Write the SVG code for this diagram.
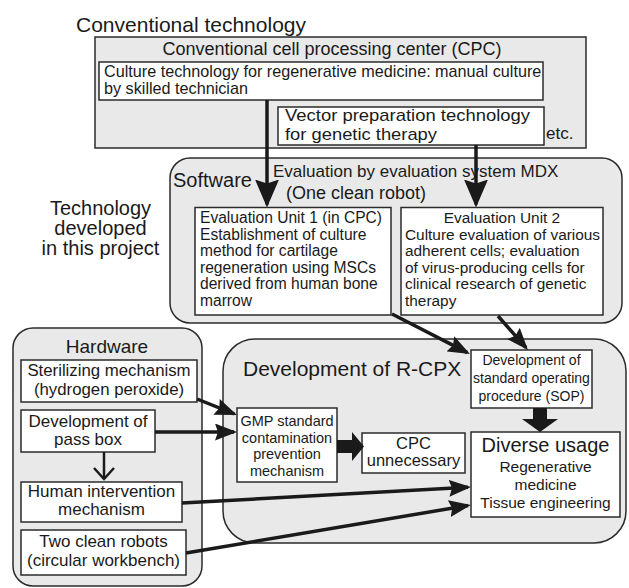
<svg xmlns="http://www.w3.org/2000/svg" width="629" height="588" viewBox="0 0 629 588">
<style>
.c{fill:#e9e9e9;stroke:#2b2b2b;stroke-width:1.5}
.b{fill:#fff;stroke:#2b2b2b;stroke-width:1.5}
text{font-family:"Liberation Sans",Arial,sans-serif;fill:#1a1a1a}
.m{text-anchor:middle}
.ln{fill:none;stroke:#1a1a1a;stroke-width:3.5}
.th{fill:none;stroke:#1a1a1a;stroke-width:2.5}
.blk{fill:#1a1a1a}
</style>
<defs>
<marker id="ah" markerUnits="userSpaceOnUse" viewBox="0 0 22 17" markerWidth="22" markerHeight="17" refX="19" refY="8.5" orient="auto"><path d="M0,0 L22,8.5 L0,17 L3,8.5 Z" fill="#1a1a1a"/></marker>
<marker id="ahL" markerUnits="userSpaceOnUse" viewBox="0 0 28 24" markerWidth="28" markerHeight="24" refX="25" refY="12" orient="auto"><path d="M0,0 L28,12 L0,24 L4,12 Z" fill="#1a1a1a"/></marker>
<marker id="chev" markerUnits="userSpaceOnUse" viewBox="0 0 14 22" markerWidth="14" markerHeight="22" refX="12" refY="11" orient="auto"><path d="M1,1 L12,11 L1,21" fill="none" stroke="#1a1a1a" stroke-width="2.5"/></marker>
</defs>

<text x="76" y="32" font-size="21">Conventional technology</text>

<g id="cpc">
<rect class="c" x="95" y="37" width="491" height="111"/>
<text class="m" x="332" y="55" font-size="18">Conventional cell processing center (CPC)</text>
<text x="546" y="139" font-size="17">etc.</text>
</g>
<g id="culture-tech">
<rect class="b" x="99" y="62" width="444" height="38"/>
<text x="104" y="77" font-size="16.2">Culture technology for regenerative medicine: manual culture</text>
<text x="104" y="94" font-size="16.2">by skilled technician</text>
</g>
<g id="vector-tech">
<rect class="b" x="278" y="107" width="266" height="38"/>
<text x="285" y="120.5" font-size="17" textLength="245" lengthAdjust="spacingAndGlyphs">Vector preparation technology</text>
<text x="285" y="140" font-size="17" textLength="152" lengthAdjust="spacingAndGlyphs">for genetic therapy</text>
</g>

<g id="tech-label">
<text class="m" x="100.5" y="215" font-size="20">Technology</text>
<text class="m" x="100.5" y="235" font-size="20">developed</text>
<text class="m" x="100.5" y="255" font-size="20">in this project</text>
</g>

<g id="software">
<rect class="c" x="170" y="158" width="452" height="165" rx="20"/>
<text x="173" y="187" font-size="20">Software</text>
<text x="273" y="177" font-size="17">Evaluation by evaluation system MDX</text>
<text x="286" y="199" font-size="18">(One clean robot)</text>
</g>
<g id="eval1">
<rect class="b" x="195" y="207.5" width="196" height="107.5"/>
<g font-size="15.6">
<text x="200" y="223">Evaluation Unit 1 (in CPC)</text>
<text x="200" y="239.5">Establishment of culture</text>
<text x="200" y="256">method for cartilage</text>
<text x="200" y="272.5">regeneration using MSCs</text>
<text x="200" y="289">derived from human bone</text>
<text x="200" y="305.5">marrow</text>
</g>
</g>
<g id="eval2">
<rect class="b" x="401" y="207.5" width="202" height="107.5"/>
<g font-size="15.4">
<text class="m" x="502" y="223">Evaluation Unit 2</text>
<text x="405" y="239.5">Culture evaluation of various</text>
<text x="405" y="256">adherent cells; evaluation</text>
<text x="405" y="272.5">of virus-producing cells for</text>
<text x="405" y="289">clinical research of genetic</text>
<text x="405" y="305.5">therapy</text>
</g>
</g>

<g id="hardware">
<rect class="c" x="13" y="328" width="189" height="258" rx="20"/>
<text class="m" x="107" y="353" font-size="19">Hardware</text>
</g>
<g id="rcpx">
<rect class="c" x="223" y="339" width="403" height="204" rx="32"/>
<text x="243" y="376" font-size="21">Development of R-CPX</text>
</g>

<g id="sterilizing">
<rect class="b" x="21" y="360" width="176" height="42"/>
<text class="m" x="109" y="376" font-size="16.8">Sterilizing mechanism</text>
<text class="m" x="109" y="395" font-size="16.8">(hydrogen peroxide)</text>
</g>
<g id="passbox">
<rect class="b" x="21" y="410" width="134" height="42"/>
<text class="m" x="88" y="427" font-size="17">Development of</text>
<text class="m" x="88" y="445" font-size="17">pass box</text>
</g>
<g id="human">
<rect class="b" x="21" y="482" width="161" height="40"/>
<text class="m" x="101.5" y="497" font-size="17">Human intervention</text>
<text class="m" x="101.5" y="515" font-size="17">mechanism</text>
</g>
<g id="robots">
<rect class="b" x="21" y="530" width="165" height="45"/>
<text class="m" x="103.5" y="547" font-size="17">Two clean robots</text>
<text class="m" x="103.5" y="566" font-size="17">(circular workbench)</text>
</g>

<g id="gmp">
<rect class="b" x="237" y="408" width="100" height="74"/>
<g font-size="14.5">
<text class="m" x="287" y="426">GMP standard</text>
<text class="m" x="287" y="443">contamination</text>
<text class="m" x="287" y="459">prevention</text>
<text class="m" x="287" y="476">mechanism</text>
</g>
</g>
<g id="cpc-unnecessary">
<rect class="b" x="362" y="433" width="103" height="40"/>
<text class="m" x="413.5" y="449" font-size="16.5">CPC</text>
<text class="m" x="413.5" y="466" font-size="16.5">unnecessary</text>
</g>
<g id="sop">
<rect class="b" x="471" y="350" width="121" height="58"/>
<g font-size="14">
<text class="m" x="531.5" y="365">Development of</text>
<text class="m" x="531.5" y="383">standard operating</text>
<text class="m" x="531.5" y="401">procedure (SOP)</text>
</g>
</g>
<g id="diverse">
<rect class="b" x="471" y="432" width="149" height="85"/>
<text class="m" x="545.5" y="452" font-size="20">Diverse usage</text>
<text class="m" x="545.5" y="472" font-size="15.5">Regenerative</text>
<text class="m" x="545.5" y="490" font-size="15.5">medicine</text>
<text class="m" x="545.5" y="508" font-size="15.5">Tissue engineering</text>
</g>

<g id="connectors">
<path class="ln" d="M267,100 L267,204.5" marker-end="url(#ahL)"/>
<path class="ln" d="M476,145 L476,204.5" marker-end="url(#ahL)"/>
<path class="ln" d="M392,314 L467.3,352.6" marker-end="url(#ah)"/>
<path class="ln" d="M498,316 L526,347.7" marker-end="url(#ah)"/>
<path class="ln" d="M197,399 L234.2,413.9" marker-end="url(#ah)"/>
<path class="ln" d="M155,432 L234,432" marker-end="url(#ah)"/>
<path class="th" d="M104,452 L104,479" marker-end="url(#chev)"/>
<path class="ln" d="M182,503 L468,487.2" marker-end="url(#ah)"/>
<path class="ln" d="M186,553 L468,505.5" marker-end="url(#ah)"/>
<polygon class="blk" points="337,440 352,440 352,432 364,446.5 352,461 352,453 337,453"/>
<polygon class="blk" points="533,408 547,408 547,419 558,419 540,432 522,419 533,419"/>
</g>
</svg>
